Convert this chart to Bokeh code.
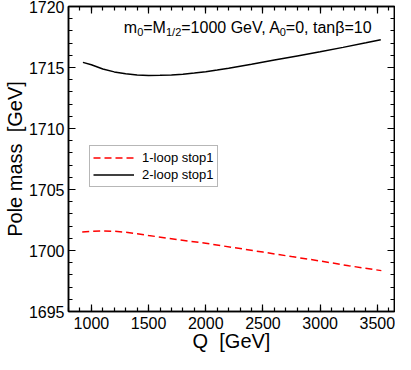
from bokeh.plotting import figure
from bokeh.models import (Range1d, SingleIntervalTicker, LinearAxis, Legend, LegendItem, Label,
                          CustomJSTickFormatter)
from bokeh.embed import file_html
from bokeh.resources import INLINE

# Data
q_1loop = [920, 1000, 1100, 1200, 1300, 1400, 1500, 1750, 2000, 2250, 2500, 2750, 3000, 3250, 3535]
m_1loop = [1701.51, 1701.57, 1701.61, 1701.58, 1701.50, 1701.37, 1701.23, 1700.90, 1700.59,
           1700.23, 1699.87, 1699.50, 1699.14, 1698.75, 1698.35]
q_2loop = [926, 1000, 1100, 1200, 1300, 1400, 1500, 1600, 1700, 1800, 1900, 2000, 2100, 2200,
           2400, 2600, 2800, 3000, 3200, 3400, 3530]
m_2loop = [1715.42, 1715.22, 1714.88, 1714.64, 1714.48, 1714.39, 1714.35, 1714.36, 1714.39,
           1714.45, 1714.54, 1714.65, 1714.79, 1714.94, 1715.27, 1715.61, 1715.95, 1716.29,
           1716.65, 1717.02, 1717.28]
legend_labels = ["1-loop stop1", "2-loop stop1"]
x_label = "Q\u00a0\u00a0[GeV]"
y_label = "Pole mass\u00a0\u00a0[GeV]"
annotation_parts = ["m", "0", "=M", "1/2", "=1000 GeV, A", "0", "=0, tanβ=10"]

FONT = "Liberation Sans"
X0, X1, Y0, Y1 = 800, 3650, 1695, 1720

p = figure(width=395, height=354, output_backend="svg", toolbar_location=None,
           x_range=Range1d(X0, X1), y_range=Range1d(Y0, Y1),
           min_border_top=6, min_border_right=1, min_border_left=0, min_border_bottom=0)
p.xaxis.visible = False
p.yaxis.visible = False
p.xgrid.visible = False
p.ygrid.visible = False
p.outline_line_color = "black"
p.outline_line_width = 1.5
p.background_fill_color = "white"
p.border_fill_color = "white"

xt = SingleIntervalTicker(interval=500, num_minor_ticks=5)
yt = SingleIntervalTicker(interval=5, num_minor_ticks=5)
blank = CustomJSTickFormatter(code="return '';")

def style_axis(ax, labels=True):
    ax.axis_line_color = "black"
    ax.axis_line_width = 1.5
    ax.major_tick_in = 7
    ax.major_tick_out = 0
    ax.minor_tick_in = 4
    ax.minor_tick_out = 0
    ax.major_tick_line_color = "black"
    ax.minor_tick_line_color = "black"
    ax.major_tick_line_width = 1.2
    ax.minor_tick_line_width = 1.2
    if labels:
        ax.major_label_text_font = FONT
        ax.major_label_text_font_size = "16px"
        ax.major_label_text_color = "black"
        ax.axis_label_text_font = FONT
        ax.axis_label_text_font_size = "20px"
        ax.axis_label_text_font_style = "normal"
        ax.axis_label_text_color = "black"
    else:
        ax.formatter = blank
        ax.major_label_text_font_size = "1px"
        ax.major_label_standoff = 0
        ax.axis_label_standoff = 0

xb = LinearAxis(ticker=xt, axis_label=x_label)
style_axis(xb)
xb.major_label_standoff = 5
xb.axis_label_standoff = -2
p.add_layout(xb, "below")

yl = LinearAxis(ticker=yt, axis_label=y_label)
style_axis(yl)
yl.major_label_standoff = 4
yl.axis_label_standoff = 0
p.add_layout(yl, "left")

xa = LinearAxis(ticker=xt)
style_axis(xa, labels=False)
p.add_layout(xa, "above")
yr = LinearAxis(ticker=yt)
style_axis(yr, labels=False)
p.add_layout(yr, "right")

r1 = p.line(q_1loop, m_1loop, line_color="#ff0000", line_width=1.5, line_dash="7 4")
r2 = p.line(q_2loop, m_2loop, line_color="black", line_width=1.5)

legend = Legend(items=[LegendItem(label=legend_labels[0], renderers=[r1]),
                       LegendItem(label=legend_labels[1], renderers=[r2])],
                location=(21, 124))
legend.label_text_font = FONT
legend.label_text_font_size = "13px"
legend.label_text_color = "black"
legend.glyph_width = 41
legend.glyph_height = 17
legend.label_height = 17
legend.label_standoff = 8
legend.spacing = 0
legend.padding = 3
legend.margin = 0
legend.border_line_color = "#707070"
legend.border_line_width = 1.5
legend.background_fill_alpha = 1.0
p.add_layout(legend, "center")

# annotation pieces: x offsets in px, subscripts drawn smaller and lower
offsets = [0, 13.3, 19.4, 42.1, 57.4, 155.9, 162.0]
subs = [False, True, False, True, False, True, False]
ax0, ay0 = 1284, 1718.24
for txt, off, sub in zip(annotation_parts, offsets, subs):
    p.add_layout(Label(x=ax0, y=ay0, x_offset=off, y_offset=(-4 if sub else 0), text=txt,
                       text_font=FONT, text_font_size=("11px" if sub else "16px"),
                       text_color="black", text_baseline="alphabetic"))

open("out.html", "w").write(file_html(p, INLINE))
